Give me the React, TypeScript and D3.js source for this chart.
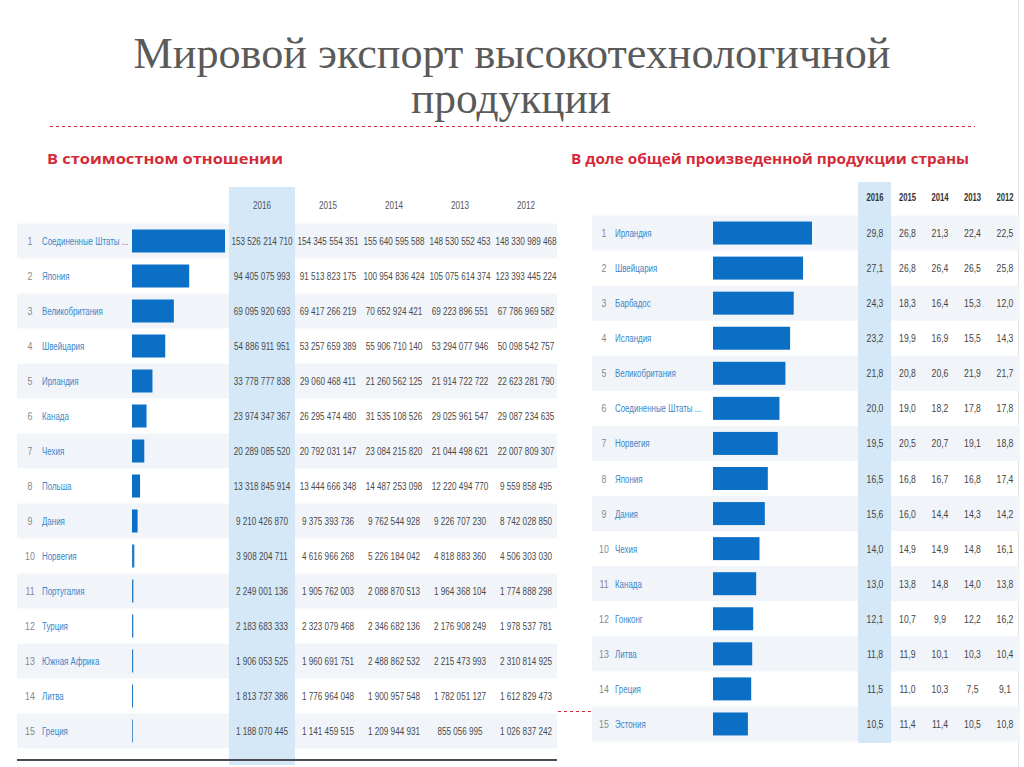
import React from "react";
import * as d3 from "d3";

const years = ["2016", "2015", "2014", "2013", "2012"];

const leftCountries = [
  "Соединенные Штаты ...", "Япония", "Великобритания", "Швейцария", "Ирландия",
  "Канада", "Чехия", "Польша", "Дания", "Норвегия",
  "Португалия", "Турция", "Южная Африка", "Литва", "Греция",
];
const left2016 = [153526214710, 94405075993, 69095920693, 54886911951, 33778777838, 23974347367, 20289085520, 13318845914, 9210426870, 3908204711, 2249001136, 2183683333, 1906053525, 1813737386, 1188070445];
const left2015 = [154345554351, 91513823175, 69417266219, 53257659389, 29060468411, 26295474480, 20792031147, 13444666348, 9375393736, 4616966268, 1905762003, 2323079468, 1960691751, 1776964048, 1141459515];
const left2014 = [155640595588, 100954836424, 70652924421, 55906710140, 21260562125, 31535108526, 23084215820, 14487253098, 9762544928, 5226184042, 2088870513, 2346682136, 2488862532, 1900957548, 1209944931];
const left2013 = [148530552453, 105075614374, 69223896551, 53294077946, 21914722722, 29025961547, 21044498621, 12220494770, 9226707230, 4818883360, 1964368104, 2176908249, 2215473993, 1782051127, 855056995];
const left2012 = [148330989468, 123393445224, 67786969582, 50098542757, 22623281790, 29087234635, 22007809307, 9559858495, 8742028850, 4506303030, 1774888298, 1978537781, 2310814925, 1612829473, 1026837242];

const rightCountries = [
  "Ирландия", "Швейцария", "Барбадос", "Исландия", "Великобритания",
  "Соединенные Штаты ...", "Норвегия", "Япония", "Дания", "Чехия",
  "Канада", "Гонконг", "Литва", "Греция", "Эстония",
];
const right2016 = [29.8, 27.1, 24.3, 23.2, 21.8, 20.0, 19.5, 16.5, 15.6, 14.0, 13.0, 12.1, 11.8, 11.5, 10.5];
const right2015 = [26.8, 26.8, 18.3, 19.9, 20.8, 19.0, 20.5, 16.8, 16.0, 14.9, 13.8, 10.7, 11.9, 11.0, 11.4];
const right2014 = [21.3, 26.4, 16.4, 16.9, 20.6, 18.2, 20.7, 16.7, 14.4, 14.9, 14.8, 9.9, 10.1, 10.3, 11.4];
const right2013 = [22.4, 26.5, 15.3, 15.5, 21.9, 17.8, 19.1, 16.8, 14.3, 14.8, 14.0, 12.2, 10.3, 7.5, 10.5];
const right2012 = [22.5, 25.8, 12.0, 14.3, 21.7, 17.8, 18.8, 17.4, 14.2, 16.1, 13.8, 16.2, 10.4, 9.1, 10.8];

const titleLine1 = "Мировой экспорт высокотехнологичной";
const titleLine2 = "продукции";
const subLeft = "В стоимостном отношении";
const subRight = "В доле общей произведенной продукции страны";

const leftCols = [left2016, left2015, left2014, left2013, left2012];
const rightCols = [right2016, right2015, right2014, right2013, right2012];

const loc = d3.formatLocale({ decimal: ",", thousands: " ", grouping: [3], currency: ["", ""] });
const fmtInt = loc.format(",d");
const fmtDec = loc.format(".1f");

const NUM_FONT = "'Liberation Sans', Arial, sans-serif";
const BAR = "#0b6fc6";
const BLUE_TXT = "#3a86c8";
const HILITE = "#d4e8f8";
const STRIPE = "#f1f5fa";
const RED = "#d42a38";

function SText({ x, y, sx = 0.74, size = 11, anchor = "middle", fill = "#555", weight = 400, children }: any) {
  return (
    <text
      transform={`translate(${x},${y}) scale(${sx},1)`}
      textAnchor={anchor}
      fontFamily={NUM_FONT}
      fontSize={size}
      fontWeight={weight}
      fill={fill}
    >
      {children}
    </text>
  );
}

export default function App() {
  const idx = d3.range(15);

  // Left table scales
  const yL = d3.scaleBand<number>().domain(idx).range([223.5, 748.5]);
  const xL = d3.scaleLinear().domain([0, d3.max(left2016) as number]).range([132, 225]);
  const colL = d3.scalePoint<string>().domain(years).range([262, 526]);

  // Right table scales
  const yR = d3.scaleBand<number>().domain(idx).range([215.5, 741.5]);
  const xR = d3.scaleLinear().domain([0, d3.max(right2016) as number]).range([713, 812]);
  const colR = d3.scalePoint<string>().domain(years).range([875, 1005]);

  const barH = 23;

  return (
    <svg
      width={1024}
      height={767}
      style={{ position: "absolute", left: 0, top: 0, background: "#fff" }}
    >
      <rect x={0} y={0} width={1024} height={767} fill="#fff" />
      <line x1={1018.5} x2={1018.5} y1={0} y2={767} stroke="#e4e4e4" strokeWidth={1} />

      {/* Title */}
      <text x={512} y={68} textAnchor="middle" fontFamily="'Liberation Serif', 'DejaVu Serif', serif" fontSize={44} fill="#5a5a5a" textLength={757} lengthAdjust="spacingAndGlyphs">
        {titleLine1}
      </text>
      <text x={511} y={113} textAnchor="middle" fontFamily="'Liberation Serif', 'DejaVu Serif', serif" fontSize={44} fill="#5a5a5a" textLength={200} lengthAdjust="spacingAndGlyphs">
        {titleLine2}
      </text>
      <line x1={50} x2={975} y1={126.5} y2={126.5} stroke={RED} strokeWidth={1} strokeDasharray="3,3" />

      {/* Subtitles */}
      <text x={47} y={164} fontFamily="'Open Sans', 'Noto Sans', sans-serif" fontWeight={700} fontSize={13.5} fill={RED} textLength={236} lengthAdjust="spacingAndGlyphs">
        {subLeft}
      </text>
      <text x={571} y={164} fontFamily="'Open Sans', 'Noto Sans', sans-serif" fontWeight={700} fontSize={13.5} fill={RED} textLength={398} lengthAdjust="spacingAndGlyphs">
        {subRight}
      </text>

      {/* LEFT TABLE */}
      <g>
        {idx.map((i) =>
          i % 2 === 0 ? (
            <rect key={"ls" + i} x={17} y={yL(i)} width={540} height={yL.bandwidth()} fill={STRIPE} />
          ) : null
        )}
        <rect x={229} y={187} width={66} height={578} fill={HILITE} />
        {years.map((yr) => (
          <SText key={"lh" + yr} x={colL(yr)} y={209} fill="#555" size={11}>{yr}</SText>
        ))}
        {idx.map((i) => {
          const cy = (yL(i) as number) + yL.bandwidth() / 2;
          return (
            <g key={"lr" + i}>
              <SText x={30} y={cy + 4} fill="#888" size={11} sx={0.8}>{String(i + 1)}</SText>
              <SText x={42} y={cy + 4} anchor="start" fill={BLUE_TXT} size={11} sx={0.72}>{leftCountries[i]}</SText>
              <rect
                x={xL(0)}
                y={cy - barH / 2}
                width={Math.max(0.8, xL(left2016[i]) - xL(0))}
                height={barH}
                fill={i >= 9 ? "#2b7cc0" : BAR}
              />
              {years.map((yr, j) => (
                <SText key={yr} x={colL(yr)} y={cy + 4} fill="#4a4a4a" size={11}>{fmtInt(leftCols[j][i])}</SText>
              ))}
            </g>
          );
        })}
        <line x1={17} x2={557} y1={760} y2={760} stroke="#4a4a55" strokeWidth={2} />
      </g>

      {/* small red dash fragment */}
      <line x1={558} x2={592} y1={711.5} y2={711.5} stroke={RED} strokeWidth={1} strokeDasharray="3,3" />

      {/* RIGHT TABLE */}
      <g>
        {idx.map((i) =>
          i % 2 === 0 ? (
            <rect key={"rs" + i} x={592} y={yR(i)} width={428} height={yR.bandwidth()} fill={STRIPE} />
          ) : null
        )}
        <rect x={858} y={182} width={33} height={561} fill={HILITE} />
        {years.map((yr) => (
          <SText key={"rh" + yr} x={colR(yr)} y={201} fill="#333" size={11} weight={700} sx={0.7}>{yr}</SText>
        ))}
        {idx.map((i) => {
          const cy = (yR(i) as number) + yR.bandwidth() / 2;
          return (
            <g key={"rr" + i}>
              <SText x={604} y={cy + 4} fill="#888" size={11} sx={0.8}>{String(i + 1)}</SText>
              <SText x={615} y={cy + 4} anchor="start" fill={BLUE_TXT} size={11} sx={0.72}>{rightCountries[i]}</SText>
              <rect x={xR(0)} y={cy - barH / 2} width={xR(right2016[i]) - xR(0)} height={barH} fill={BAR} />
              {years.map((yr, j) => (
                <SText key={yr} x={colR(yr)} y={cy + 4} fill="#444" size={11.5} sx={0.75}>{fmtDec(rightCols[j][i])}</SText>
              ))}
            </g>
          );
        })}
      </g>
    </svg>
  );
}
